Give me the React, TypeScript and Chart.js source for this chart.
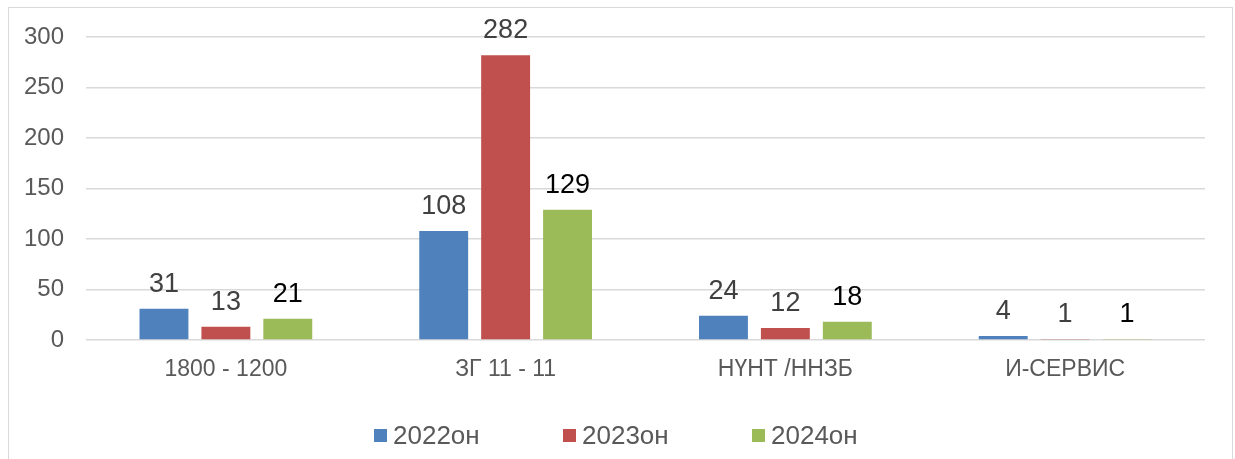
import React, { useEffect, useRef } from "react";
import { Chart, registerables } from "chart.js";

Chart.register(...registerables);

const categories = ["1800 - 1200", "ЗГ 11 - 11", "НҮНТ /ННЗБ", "И-СЕРВИС"];
const seriesNames = ["2022он", "2023он", "2024он"];
const values2022 = [31, 108, 24, 4];
const values2023 = [13, 282, 12, 1];
const values2024 = [21, 129, 18, 1];
const seriesColors = ["#4F81BD", "#C0504D", "#9BBB59"];
const labelColors = ["#404040", "#404040", "#000000"];
const yTicks = [0, 50, 100, 150, 200, 250, 300];

const FONT = "'Liberation Sans', Arial, sans-serif";

const valueLabels = {
  id: "valueLabels",
  afterDatasetsDraw(chart: any) {
    const ctx = chart.ctx;
    ctx.save();
    ctx.font = `27px ${FONT}`;
    ctx.textAlign = "center";
    ctx.textBaseline = "alphabetic";
    chart.data.datasets.forEach((ds: any, di: number) => {
      const meta = chart.getDatasetMeta(di);
      ctx.fillStyle = labelColors[di];
      meta.data.forEach((el: any, i: number) => {
        ctx.fillText(String(ds.data[i]), el.x, el.y - 17);
      });
    });
    ctx.restore();
  },
};

export default function App() {
  const ref = useRef<HTMLCanvasElement>(null);
  useEffect(() => {
    const chart = new Chart(ref.current!, {
      type: "bar",
      data: {
        labels: categories,
        datasets: [values2022, values2023, values2024].map((d, i) => ({
          label: seriesNames[i],
          data: d,
          backgroundColor: seriesColors[i],
          borderWidth: 0,
          categoryPercentage: 0.664,
          barPercentage: 0.79,
        })),
      },
      options: {
        animation: false,
        responsive: false,
        maintainAspectRatio: false,
        layout: { padding: { left: 0, top: 37, right: 30, bottom: 0 } },
        plugins: {
          legend: { display: false },
          tooltip: { enabled: false },
          title: { display: false },
        },
        scales: {
          x: {
            grid: { display: false, drawTicks: false },
            border: { display: false },
            ticks: {
              color: "#595959",
              font: { family: FONT, size: 23 },
              padding: 16,
              maxRotation: 0,
            },
            afterFit: (s: any) => {
              s.height = 119;
            },
          },
          y: {
            min: 0,
            max: 300,
            afterBuildTicks: (s: any) => {
              s.ticks = yTicks.map((v) => ({ value: v }));
            },
            grid: { color: "#d9d9d9", lineWidth: 1.5, drawTicks: false },
            border: { display: false },
            ticks: {
              color: "#595959",
              font: { family: FONT, size: 24 },
              padding: 22,
            },
            afterFit: (s: any) => {
              s.width = 86;
            },
          },
        },
      },
      plugins: [valueLabels],
    });
    return () => chart.destroy();
  }, []);

  return (
    <div>
      <div
        style={{
          position: "absolute",
          left: 8,
          top: 7,
          width: 1225,
          height: 470,
          boxSizing: "border-box",
          border: "1.5px solid #d9d9d9",
        }}
      />
      <canvas
        ref={ref}
        width={1235}
        height={459}
        style={{ position: "absolute", left: 0, top: 0, width: 1235, height: 459 }}
      />
      <div
        style={{
          position: "absolute",
          left: 374,
          top: 420,
          height: 30,
          display: "flex",
          alignItems: "center",
          fontFamily: FONT,
          fontSize: 26,
          color: "#595959",
        }}
      >
        {seriesNames.map((n, i) => (
          <div key={n} style={{ width: 189, display: "flex", alignItems: "center" }}>
            <span
              style={{
                display: "inline-block",
                width: 13,
                height: 13,
                background: seriesColors[i],
                marginRight: 6,
              }}
            />
            <span>{n}</span>
          </div>
        ))}
      </div>
    </div>
  );
}
